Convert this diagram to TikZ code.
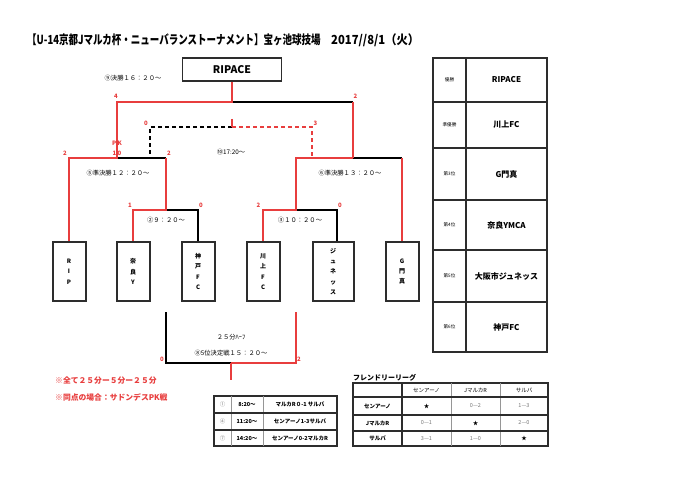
\documentclass[tikz,border=0pt]{standalone}
\usepackage{fontspec}
\setmainfont{Noto Sans CJK JP}
\newfontfamily\jpc[FakeStretch=0.76]{Noto Sans CJK JP}
\newfontfamily\jpd[FakeStretch=0.9]{Noto Sans CJK JP}
\definecolor{myred}{RGB}{232,62,62}
\definecolor{bord}{RGB}{45,45,45}
\definecolor{sgray}{RGB}{120,120,120}
\definecolor{lgray}{RGB}{150,150,150}
\begin{document}
\begin{tikzpicture}[x=1pt,y=-1pt,
 redln/.style={draw=myred,line width=1.5pt},
 blkln/.style={draw=black,line width=1.5pt},
 team/.style={draw=bord,line width=2pt,minimum width=33pt,minimum height=59pt,inner sep=0pt,align=center,font=\bfseries\fontsize{6}{10.4}\selectfont},
 scorelbl/.style={text=myred,font=\bfseries\fontsize{6}{7}\selectfont,inner sep=0pt},
 lbl/.style={font=\fontsize{6.3}{7}\selectfont,inner sep=0pt},
 tbl/.style={draw=bord,line width=1.4pt},
 tblg/.style={draw=lgray,line width=1pt},
 ttxt/.style={font=\fontsize{5.5}{6}\selectfont,inner sep=0pt},
 tbold/.style={font=\bfseries\fontsize{5.5}{6}\selectfont,inner sep=0pt},
 tsc/.style={text=sgray,font=\fontsize{5.5}{6}\selectfont,inner sep=0pt},
]
\useasboundingbox (0,0) rectangle (698,484);
\fill[white] (0,0) rectangle (698,484);

% title
\node[anchor=west,inner sep=0pt,font=\jpc\bfseries\fontsize{12.5}{14}\selectfont] (title) at (27,40) {【U-14京都Jマルカ杯・ニューバランストーナメント】宝ヶ池球技場};
\node[anchor=west,inner sep=0pt,font=\jpd\bfseries\fontsize{12.5}{14}\selectfont] (date) at (331,40) {2017//8/1（火）};

% champion box
\node[draw=bord,line width=1.6pt,minimum width=99pt,minimum height=23pt,inner sep=0pt,font=\bfseries\fontsize{10.5}{12}\selectfont] (final) at (232,69.5) {RIPACE};
\node[lbl] (tfinal) at (133,78) {⑨決勝１６：２０～};

% teams
\node[team] (rip) at (69,271.5) {R\\I\\P};
\node[team] (nara) at (133,271.5) {奈\\良\\Y};
\node[team] (kobe) at (198,271.5) {神\\戸\\F\\C};
\node[team] (kawa) at (263,271.5) {川\\上\\F\\C};
\node[team,minimum width=41pt] (june) at (333,271.5) {ジ\\ュ\\ネ\\ッ\\ス};
\node[team] (gkado) at (402,271.5) {G\\門\\真};

% junction coordinates
\coordinate (cF) at (232,102);
\coordinate (cFL) at (117,102);
\coordinate (cFR) at (353,102);
\coordinate (s5L) at (69,158);
\coordinate (s5M) at (117,158);
\coordinate (s5R) at (166,158);
\coordinate (s6L) at (296,158);
\coordinate (s6M) at (353,158);
\coordinate (s6R) at (402,158);
\coordinate (q2L) at (133,210);
\coordinate (q2M) at (166,210);
\coordinate (q2R) at (198,210);
\coordinate (q3L) at (263,210);
\coordinate (q3M) at (296,210);
\coordinate (q3R) at (337,210);
\coordinate (t3S) at (232,119);
\coordinate (t3C) at (232,127);
\coordinate (t3L) at (150,127);
\coordinate (t3Lb) at (150,158);
\coordinate (t3R) at (312,127);
\coordinate (t3Rb) at (312,158);
\coordinate (p5Lt) at (166,312);
\coordinate (p5L) at (166,363);
\coordinate (p5C) at (231,363);
\coordinate (p5R) at (296,363);
\coordinate (p5Rt) at (296,312);
\coordinate (p5S) at (231,380);

% black lines
\draw[blkln] (cF) -- (cFR);
\draw[blkln] (s5M) -- (s5R);
\draw[blkln] (q2M) -- (q2R) -- (kobe.north);
\draw[blkln] (s6M) -- (s6R);
\draw[blkln] (q3M) -- (q3R) -- (q3R |- june.north);
\draw[blkln] (p5Lt) -- (p5L) -- (p5C);
\draw[blkln,dashed,dash pattern=on 4pt off 3pt] (t3C) -- (t3L) -- (t3Lb);
% red lines
\draw[redln] (final.south) -- (cF) -- (cFL) -- (s5M) -- (s5L) -- (rip.north);
\draw[redln] (cFR) -- (s6M);
\draw[redln] (s5R) -- (q2M) -- (q2L) -- (nara.north);
\draw[redln] (s6M) -- (s6L) -- (q3M) -- (q3L) -- (kawa.north);
\draw[redln] (s6R) -- (gkado.north);
\draw[redln] (t3S) -- (t3C);
\draw[redln,dashed,dash pattern=on 4pt off 3pt] (t3C) -- (t3R) -- (t3Rb);
\draw[redln] (p5C) -- (p5R) -- (p5Rt);
\draw[redln] (p5C) -- (p5S);

% score labels
\node[scorelbl] (n1) at (116,96.5) {4};
\node[scorelbl] (n2) at (355.5,96.5) {2};
\node[scorelbl] (n3) at (146,123.5) {0};
\node[scorelbl] (n4) at (315.5,123.5) {3};
\node[scorelbl] (n5) at (65,153) {2};
\node[scorelbl] (n6) at (117,143) {P K};
\node[scorelbl] (n7) at (117,153) {1 0};
\node[scorelbl] (n8) at (169,153) {2};
\node[scorelbl] (n9) at (130,205) {1};
\node[scorelbl] (n10) at (201,205) {0};
\node[scorelbl] (n11) at (258.5,205) {2};
\node[scorelbl] (n12) at (340,205) {0};
\node[scorelbl] (n13) at (162,359) {0};
\node[scorelbl] (n14) at (299,359) {2};

% match labels
\node[lbl] (m10) at (231,152) {⑩17:20～};
\node[lbl] (m5) at (118,173) {⑤準決勝１２：２０～};
\node[lbl] (m6) at (350,173) {⑥準決勝１３：２０～};
\node[lbl] (m2) at (166,220.5) {②９：２０～};
\node[lbl] (m3) at (300,220.5) {③１０：２０～};
\node[lbl] (m8a) at (231,337) {２５分ﾊｰﾌ};
\node[lbl] (m8) at (231,353) {⑧5位決定戦１５：２０～};

% notes
\node[anchor=west,inner sep=0pt,text=myred,font=\bfseries\fontsize{7.8}{9}\selectfont] (note1) at (55,381) {※全て２５分ー５分ー２５分};
\node[anchor=west,inner sep=0pt,text=myred,font=\bfseries\fontsize{7.8}{9}\selectfont] (note2) at (55,397) {※同点の場合：サドンデスPK戦};

% ranking table
\draw[tbl] (433,58) rectangle (547,352);
\draw[tbl] (466,58) -- (466,352);
\foreach \yy in {102,148,200,250,302} \draw[tbl] (433,\yy) -- (547,\yy);
\foreach \yy/\k/\v [count=\i] in {80/優勝/RIPACE,125/準優勝/川上FC,174/第3位/G門真,225/第4位/奈良YMCA,276/第5位/大阪市ジュネッス,327/第6位/神戸FC}{
  \node[inner sep=0pt,font=\fontsize{4.6}{5}\selectfont] (rk\i) at (449.5,\yy) {\k};
  \node[inner sep=0pt,font=\bfseries\fontsize{8}{9}\selectfont] (rv\i) at (506.5,\yy) {\v};
}

% friendly league
\node[anchor=west,inner sep=0pt,font=\bfseries\fontsize{7}{8}\selectfont] (ftitle) at (353,378) {フレンドリーリーグ};
\draw[tbl] (353,383) rectangle (548,446);
\foreach \xx in {402,451,500} \draw[tblg] (\xx,383) -- (\xx,446);
\draw[tbl] (402,383) -- (402,446);
\foreach \yy in {397,415,431} \draw[tbl] (353,\yy) -- (548,\yy);
\node[ttxt] (fh1) at (426.5,390) {センアーノ};
\node[ttxt] (fh2) at (475.5,390) {JマルカR};
\node[ttxt] (fh3) at (524,390) {サルバ};
\node[tbold] (fr1) at (377.5,406) {センアーノ};
\node[tbold] (fr2) at (377.5,423) {JマルカR};
\node[tbold] (fr3) at (377.5,438.5) {サルバ};
\node[ttxt] (f11) at (426.5,406) {★};
\node[tsc] (f12) at (475.5,406) {0—2};
\node[tsc] (f13) at (524,406) {1—3};
\node[tsc] (f21) at (426.5,423) {0—1};
\node[ttxt] (f22) at (475.5,423) {★};
\node[tsc] (f23) at (524,423) {2—0};
\node[tsc] (f31) at (426.5,438.5) {3—1};
\node[tsc] (f32) at (475.5,438.5) {1—0};
\node[ttxt] (f33) at (524,438.5) {★};

% other matches table
\draw[tbl] (214,396) rectangle (337,446);
\draw[tblg] (231,396) -- (231,446);
\draw[tblg] (263,396) -- (263,446);
\draw[tbl] (214,413) -- (337,413);
\draw[tbl] (214,430) -- (337,430);
\node[ttxt,text=sgray] (o1a) at (222.5,404.5) {①};
\node[tbold] (o1b) at (247,404.5) {8:20～};
\node[tbold] (o1c) at (300,404.5) {マルカR０-1 サルバ};
\node[ttxt,text=sgray] (o2a) at (222.5,421.5) {④};
\node[tbold] (o2b) at (247,421.5) {11:20～};
\node[tbold] (o2c) at (300,421.5) {センアーノ1-3サルバ};
\node[ttxt,text=sgray] (o3a) at (222.5,438) {⑦};
\node[tbold] (o3b) at (247,438) {14:20～};
\node[tbold] (o3c) at (300,438) {センアーノ0-2マルカR};
\end{tikzpicture}
\end{document}
